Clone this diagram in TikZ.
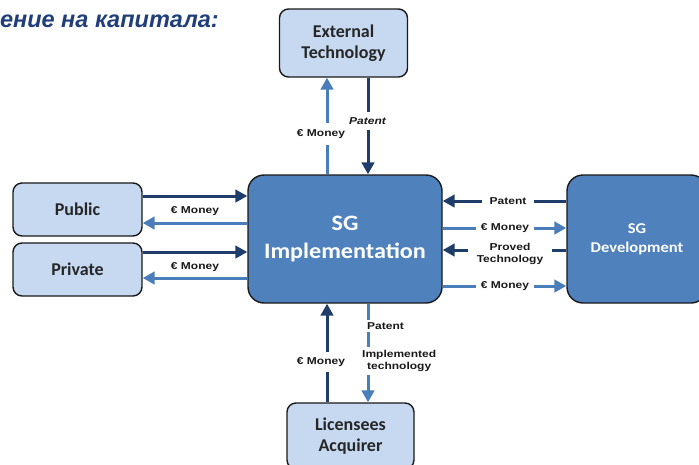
\documentclass[tikz,border=0pt]{standalone}
\usepackage{fontspec}
\setmainfont{Carlito}
\newfontfamily\labfont[FakeStretch=1.2]{Liberation Sans}
\newfontfamily\titlefont{Liberation Sans}
\newfontfamily\sgfont[FakeStretch=1.1]{Carlito}
\usetikzlibrary{arrows.meta}
\definecolor{darkarr}{HTML}{1F3D6B}
\definecolor{lightarr}{HTML}{4A7EBB}
\definecolor{boxfill}{HTML}{C6D9F1}
\definecolor{sgfill}{HTML}{4F81BD}
\definecolor{boxline}{HTML}{1A1A1A}
\definecolor{titleblue}{HTML}{1F3E7A}
\begin{document}
\begin{tikzpicture}[x=1pt,y=-1pt,
  lbox/.style={draw=boxline, line width=1.4pt, fill=boxfill, rounded corners=9pt, align=center,
    font=\fontsize{18}{21}\selectfont\bfseries, text=black!85},
  sgbox/.style={draw=boxline, line width=1.4pt, fill=sgfill, rounded corners=16pt, align=center, text=white},
  darr/.style={draw=darkarr, line width=3pt, -{Triangle[length=12pt,width=12.5pt]}},
  larr/.style={draw=lightarr, line width=3pt, -{Triangle[length=12pt,width=12.5pt]}},
  lab/.style={fill=white, inner sep=2pt, align=center, text=black!90,
    font=\labfont\bfseries\fontsize{10}{12}\selectfont},
]
\useasboundingbox (0,0) rectangle (699,464);
\fill[white] (0,0) rectangle (699,464);
\clip (0,0) rectangle (699,464);

\node[anchor=base east, inner sep=0, text=titleblue,
  font=\titlefont\bfseries\itshape\fontsize{23.5}{27}\selectfont] (title) at (219,27) {ение на капитала:};

\node[lbox, minimum width=128pt, minimum height=68pt] (ext) at (343.5,43) {External\\Technology};
\node[sgbox, minimum width=194pt, minimum height=128pt,
  font=\sgfont\bfseries\fontsize{22}{28}\selectfont] (sgi) at (345,239) {SG\\Implementation};
\node[lbox, minimum width=129pt, minimum height=53pt] (pub) at (77.5,209.5) {Public};
\node[lbox, minimum width=129pt, minimum height=53pt] (pri) at (77.5,269.5) {Private};
\node[sgbox, minimum width=140pt, minimum height=128pt,
  font=\sgfont\bfseries\fontsize{15}{19}\selectfont] (sgd) at (637,239) {SG\\Development};
\node[lbox, minimum width=127pt, minimum height=66pt] (lic) at (350.5,436) {Licensees\\Acquirer};

\coordinate (cA) at (327,0);
\coordinate (cB) at (368,0);
\coordinate (cC) at (327,0);
\coordinate (r1) at (0,196);
\coordinate (r2) at (0,223);
\coordinate (r3) at (0,252);
\coordinate (r4) at (0,278);
\coordinate (s1) at (0,201);
\coordinate (s2) at (0,228);
\coordinate (s3) at (0,250);
\coordinate (s4) at (0,286);

% top
\draw[larr] (sgi.north -| cA) -- (ext.south -| cA);
\draw[darr] (ext.south -| cB) -- (sgi.north -| cB);
\node[lab, inner ysep=6pt] (l1) at (321,134) {€ Money};
\node[lab, inner ysep=6pt, font=\labfont\bfseries\itshape\fontsize{10}{12}\selectfont] (l2) at (367.5,121) {Patent};

% left
\draw[darr] (pub.east |- r1) -- (sgi.west |- r1);
\draw[larr] (sgi.west |- r2) -- (pub.east |- r2);
\node[lab, fill=none] (l3) at (195,211) {€ Money};
\draw[darr] (pri.east |- r3) -- (sgi.west |- r3);
\draw[larr] (sgi.west |- r4) -- (pri.east |- r4);
\node[lab, fill=none] (l4) at (195,267) {€ Money};

% right
\draw[darr] (sgd.west |- s1) -- (sgi.east |- s1);
\node[lab, inner xsep=8pt] (l5) at (508,201) {Patent};
\draw[larr] (sgi.east |- s2) -- (sgd.west |- s2);
\node[lab, inner xsep=5pt] (l6) at (505,228) {€ Money};
\draw[darr] (sgd.west |- s3) -- (sgi.east |- s3);
\node[lab, inner xsep=9pt, inner ysep=1pt] (l7) at (510,254) {Proved\\Technology};
\draw[larr] (sgi.east |- s4) -- (sgd.west |- s4);
\node[lab, inner xsep=5pt] (l8) at (505,286) {€ Money};

% bottom
\draw[darr] (lic.north -| cC) -- (sgi.south -| cC);
\node[lab, inner ysep=5pt] (l9) at (321,362) {€ Money};
\draw[larr] (sgi.south -| cB) -- (lic.north -| cB);
\node[lab, anchor=west, inner ysep=3pt] (l10) at (365,326) {Patent};
\node[lab, anchor=west, inner ysep=3pt] (l11) at (360,361) {Implemented\\technology};
\end{tikzpicture}
\end{document}
